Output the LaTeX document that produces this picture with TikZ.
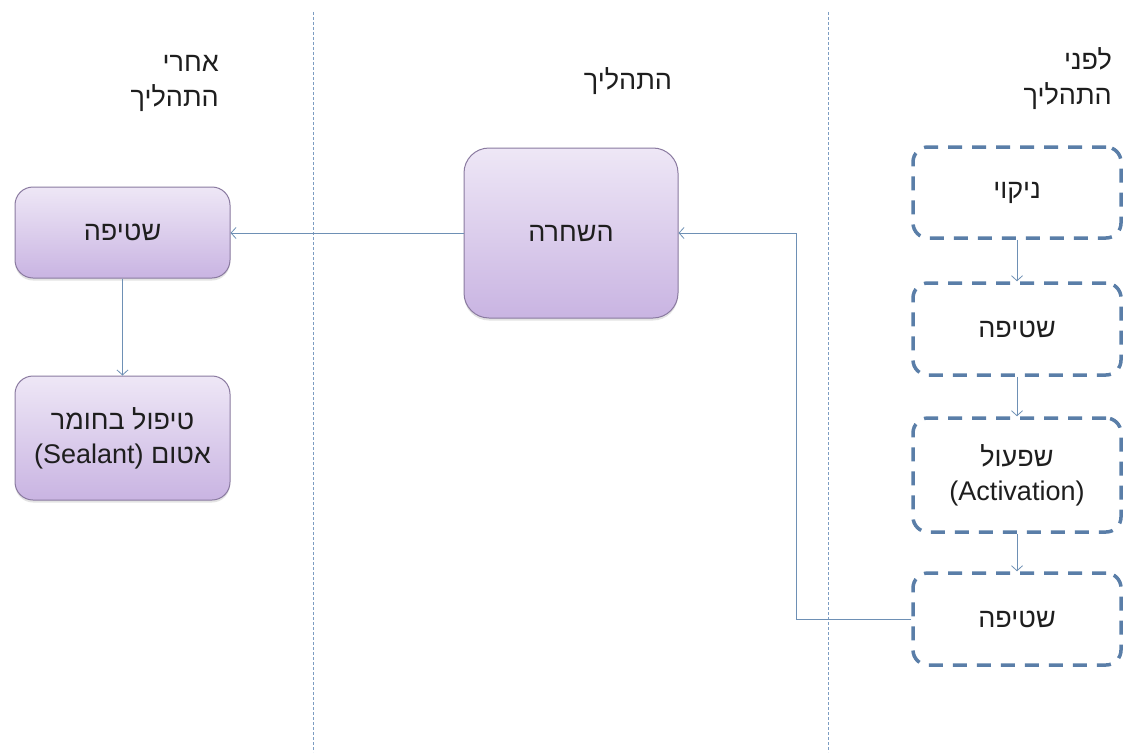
\documentclass[tikz,border=0pt]{standalone}
\usepackage{fontspec}
\setmainfont{Liberation Sans}
\newfontfamily\hebfont[Script=Hebrew]{Liberation Sans}
\TeXXeTstate=1
\usetikzlibrary{arrows.meta,shadows}
\newcommand\heb[1]{{\hebfont\beginR #1\endR}}
\definecolor{boxtop}{HTML}{EEE7F6}
\definecolor{boxbot}{HTML}{C9B4E2}
\definecolor{boxline}{HTML}{8A7AA0}
\definecolor{dashline}{HTML}{5A7EA8}
\definecolor{connc}{HTML}{6E90B5}
\definecolor{sepc}{HTML}{7C9CC2}
\definecolor{txt}{HTML}{1E1E1E}
\begin{document}
\begin{tikzpicture}[x=1pt,y=-1pt,
  font=\fontsize{27}{34}\selectfont, text=txt,
  purplebox/.style={draw=boxline, line width=1pt, rounded corners=18pt,
    top color=boxtop, bottom color=boxbot,
    drop shadow={opacity=0.22, shadow xshift=0pt, shadow yshift=-2.5pt},
    align=center, inner sep=0pt},
  dashbox/.style={draw=dashline, line width=3.5pt, dash pattern=on 14pt off 10pt,
    rounded corners=15pt, fill=white, align=center, inner sep=0pt},
  connector/.style={draw=connc, line width=0.8pt, -{Straight Barb[length=5pt,width=11pt]}},
  sepline/.style={draw=sepc, line width=0.8pt, dash pattern=on 3pt off 2pt},
  header/.style={align=right, inner sep=0pt, font=\fontsize{27}{35}\selectfont}
]
\useasboundingbox (0,0) rectangle (1123,752);
\fill[white] (0,0) rectangle (1123,752);

% separators
\coordinate (s1top) at (313,12);
\coordinate (s1bot) at (313,752);
\coordinate (s2top) at (828,12);
\coordinate (s2bot) at (828,752);
\draw[sepline] (s1top) -- (s1bot);
\draw[sepline] (s2top) -- (s2bot);

% headers
\node[header, anchor=north east] (hafter) at (219,55) {\heb{אחרי}\\\heb{התהליך}};
\node[header, anchor=north] (hproc) at (628,67) {\heb{התהליך}};
\node[header, anchor=north east] (hbefore) at (1112,47) {\heb{לפני}\\\heb{התהליך}};

% left column
\node[purplebox, minimum width=215pt, minimum height=91pt] (l1) at (122.5,232.5) {\heb{שטיפה}};
\node[purplebox, minimum width=215pt, minimum height=124pt] (l2) at (122.5,438) {\heb{טיפול בחומר}\\\heb{אטום \beginL(Sealant)\endL}};

% middle
\node[purplebox, rounded corners=25pt, minimum width=214pt, minimum height=170pt] (mid) at (571,233) {\heb{השחרה}};

% right column
\node[dashbox, minimum width=208pt, minimum height=91pt] (r1) at (1017,192.5) {\heb{ניקוי}};
\node[dashbox, minimum width=208pt, minimum height=92pt] (r2) at (1017,329) {\heb{שטיפה}};
\node[dashbox, minimum width=208pt, minimum height=114pt] (r3) at (1017,475) {\heb{שפעול}\\(Activation)};
\node[dashbox, minimum width=208pt, minimum height=92pt] (r4) at (1017,619) {\heb{שטיפה}};

% connectors
\draw[connector] (r1.south) -- (r2.north);
\draw[connector] (r2.south) -- (r3.north);
\draw[connector] (r3.south) -- (r4.north);
\coordinate (turn) at (796,0);
\draw[connector] (r4.west) -- (r4.west -| turn) -- (turn |- mid.east) -- (mid.east);
\draw[connector] (mid.west) -- (mid.west -| l1.east);
\draw[connector] (l1.south) -- (l2.north);
\end{tikzpicture}
\end{document}
